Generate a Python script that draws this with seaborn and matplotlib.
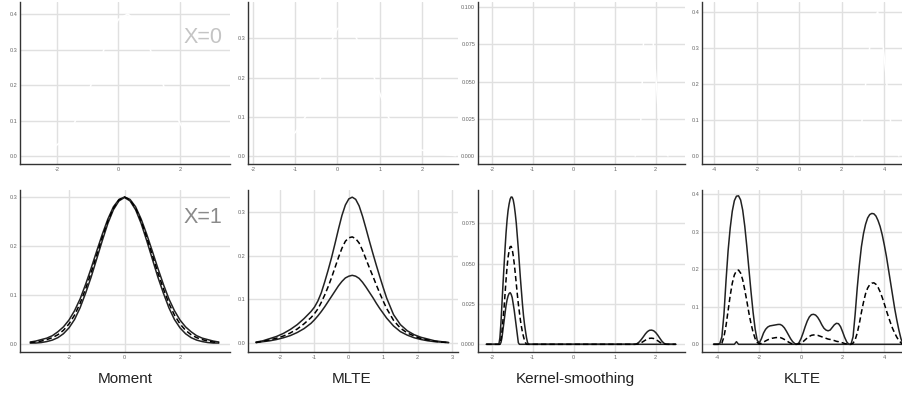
import matplotlib
matplotlib.use("Agg")
import matplotlib.pyplot as plt
import seaborn as sns

# ---------------- data ----------------
# Moment, X=1 (bottom row)
mom_x = [-3.4, -3.2, -3.0, -2.8, -2.6, -2.4, -2.2, -2.0, -1.8, -1.6, -1.4, -1.2,
         -1.0, -0.8, -0.6, -0.4, -0.2, 0.0, 0.2, 0.4, 0.6, 0.8, 1.0, 1.2, 1.4,
         1.6, 1.8, 2.0, 2.2, 2.4, 2.6, 2.8, 3.0, 3.2, 3.4]
mom_up = [0.004, 0.006, 0.009, 0.012, 0.017, 0.025, 0.035, 0.049, 0.068, 0.092, 0.122, 0.155,
          0.190, 0.224, 0.255, 0.280, 0.295, 0.300, 0.295, 0.280, 0.255, 0.224, 0.190, 0.155,
          0.122, 0.092, 0.068, 0.049, 0.035, 0.025, 0.017, 0.012, 0.009, 0.006, 0.004]
mom_mid = [0.003, 0.004, 0.006, 0.009, 0.013, 0.019, 0.028, 0.041, 0.059, 0.083, 0.113, 0.146,
           0.182, 0.218, 0.251, 0.277, 0.294, 0.300, 0.294, 0.277, 0.251, 0.218, 0.182, 0.146,
           0.113, 0.083, 0.059, 0.041, 0.028, 0.019, 0.013, 0.009, 0.006, 0.004, 0.003]
mom_lo = [0.002, 0.002, 0.003, 0.005, 0.008, 0.013, 0.021, 0.033, 0.050, 0.074, 0.104, 0.137,
          0.174, 0.211, 0.246, 0.274, 0.292, 0.299, 0.292, 0.274, 0.246, 0.211, 0.174, 0.137,
          0.104, 0.074, 0.050, 0.033, 0.021, 0.013, 0.008, 0.005, 0.003, 0.002, 0.002]
# Moment, X=0 (white curve)
mom0_x = [-2.7, -2.4, -2.1, -1.8, -1.5, -1.2, -0.9, -0.6, -0.3, 0.0, 0.3, 0.6, 0.9,
          1.2, 1.5, 1.8, 2.1, 2.4, 2.7, 3.0, 3.3]
mom0_y = [0.005, 0.011, 0.024, 0.046, 0.082, 0.134, 0.199, 0.272, 0.338, 0.385, 0.400,
          0.380, 0.330, 0.262, 0.190, 0.126, 0.076, 0.042, 0.021, 0.010, 0.004]

# MLTE, X=1
mlte_x = [-2.7, -2.5, -2.3, -2.1, -1.9, -1.7, -1.5, -1.3, -1.1,
          -1.0, -0.9, -0.8, -0.7, -0.6, -0.5, -0.4, -0.3, -0.2, -0.1, 0.0,
          0.1, 0.2, 0.3, 0.4, 0.5, 0.6, 0.7, 0.8, 0.9, 1.0, 1.1,
          1.3, 1.5, 1.7, 1.9, 2.1, 2.3, 2.5, 2.7, 2.9]
mlte_up = [0.002, 0.005, 0.010, 0.015, 0.022, 0.031, 0.042, 0.056, 0.072,
           0.082, 0.096, 0.115, 0.140, 0.167, 0.196, 0.228, 0.261, 0.292, 0.316, 0.330,
           0.334, 0.329, 0.314, 0.290, 0.262, 0.233, 0.205, 0.178, 0.152, 0.127, 0.103,
           0.065, 0.042, 0.028, 0.019, 0.013, 0.009, 0.005, 0.003, 0.001]
mlte_mid = [0.001, 0.004, 0.007, 0.011, 0.016, 0.023, 0.032, 0.044, 0.058,
            0.067, 0.078, 0.093, 0.110, 0.129, 0.150, 0.173, 0.196, 0.217, 0.233, 0.241,
            0.243, 0.239, 0.229, 0.212, 0.192, 0.172, 0.153, 0.133, 0.114, 0.096, 0.079,
            0.052, 0.034, 0.023, 0.016, 0.010, 0.007, 0.004, 0.002, 0.001]
mlte_lo = [0.001, 0.003, 0.005, 0.008, 0.012, 0.017, 0.024, 0.033, 0.045,
           0.053, 0.062, 0.072, 0.083, 0.095, 0.107, 0.119, 0.131, 0.141, 0.149, 0.153,
           0.155, 0.153, 0.148, 0.139, 0.128, 0.116, 0.104, 0.091, 0.079, 0.068, 0.057,
           0.039, 0.026, 0.018, 0.012, 0.008, 0.005, 0.003, 0.002, 0.001]
# MLTE, X=0 (white curve)
mlte0_x = [-1.9, -1.6, -1.3, -1.0, -0.7, -0.4, -0.2, 0.0, 0.2, 0.4, 0.6, 0.8, 1.0, 1.2,
           1.4, 1.6, 1.8, 2.0, 2.3, 2.6, 2.8]
mlte0_y = [0.003, 0.010, 0.030, 0.060, 0.110, 0.200, 0.280, 0.325, 0.330, 0.310, 0.270,
           0.220, 0.160, 0.100, 0.065, 0.040, 0.024, 0.015, 0.007, 0.003, 0.001]

# Kernel-smoothing, X=1
ks_x = [-2.13, -1.85,
        -1.825, -1.8, -1.775, -1.75, -1.725, -1.7, -1.675, -1.65, -1.625, -1.6,
        -1.575, -1.55, -1.525, -1.5, -1.475, -1.45, -1.425, -1.4, -1.375, -1.35,
        -1.325, -1.3, -1.275, -1.25, -1.225, -1.2, -1.175, -1.15, -1.125, -1.1,
        1.5, 1.55, 1.6, 1.65, 1.7, 1.75, 1.8, 1.85, 1.9, 1.95, 2.0, 2.05, 2.1,
        2.15, 2.2, 2.25, 2.3, 2.49]
ks_up = [0, 0,
         0.0, 0.004, 0.013, 0.025, 0.037, 0.048, 0.059, 0.069, 0.077, 0.083,
         0.087, 0.090, 0.0913, 0.0912, 0.0895, 0.086, 0.081, 0.075, 0.067, 0.059,
         0.050, 0.041, 0.033, 0.025, 0.018, 0.0125, 0.008, 0.004, 0.001, 0.0,
         0, 0.0005, 0.0015, 0.003, 0.0047, 0.0065, 0.0079, 0.0087, 0.0088, 0.0084, 0.0073,
         0.0057, 0.0038, 0.002, 0.0007, 0.0001, 0, 0]
ks_mid = [0, 0,
          0, 0, 0.003, 0.008, 0.015, 0.022, 0.031, 0.040, 0.048, 0.054,
          0.058, 0.0605, 0.0607, 0.059, 0.055, 0.050, 0.044, 0.0375, 0.031, 0.025,
          0.020, 0.015, 0.011, 0.0075, 0.0048, 0.0025, 0.001, 0, 0, 0,
          0, 0.0001, 0.0004, 0.001, 0.0018, 0.0026, 0.0033, 0.0037, 0.0038, 0.0036, 0.003,
          0.0022, 0.0013, 0.0006, 0.0002, 0, 0, 0]
ks_lo = [0, 0,
         0, 0, 0.001, 0.004, 0.009, 0.014, 0.019, 0.024, 0.0275, 0.030,
         0.0315, 0.032, 0.031, 0.029, 0.025, 0.021, 0.016, 0.011, 0.006, 0.001,
         0, 0, 0, 0, 0, 0, 0, 0, 0, 0,
         0, 0, 0, 0, 0, 0, 0, 0, 0, 0, 0, 0, 0, 0, 0, 0, 0, 0]
# Kernel-smoothing, X=0 (white curve)
ks0_x = [1.5, 1.6, 1.65, 1.7, 1.8, 1.9, 2.0, 2.05, 2.1, 2.2, 2.3]
ks0_y = [0, 0.008, 0.030, 0.075, 0.098, 0.090, 0.055, 0.035, 0.018, 0.004, 0]

# KLTE, X=1
kl_x = [-4.2, -4.1, -4.0, -3.9, -3.8, -3.7, -3.6, -3.5, -3.4, -3.3,
        -3.2, -3.1, -3.0, -2.9, -2.8, -2.7, -2.6, -2.5, -2.4, -2.3,
        -2.2, -2.1, -2.0, -1.9, -1.8, -1.7, -1.6, -1.5, -1.4, -1.3,
        -1.2, -1.1, -1.0, -0.9, -0.8, -0.7, -0.6, -0.5, -0.4, -0.3,
        -0.2, -0.1, 0.0, 0.1, 0.2, 0.3, 0.4, 0.5, 0.6, 0.7,
        0.8, 0.9, 1.0, 1.1, 1.2, 1.3, 1.4, 1.5, 1.6, 1.7,
        1.8, 1.9, 2.0, 2.1, 2.2, 2.3, 2.4, 2.5, 2.6, 2.7,
        2.8, 2.9, 3.0, 3.1, 3.2, 3.3, 3.4, 3.5, 3.6, 3.7,
        3.8, 3.9, 4.0, 4.1, 4.2, 4.3, 4.4, 4.5, 4.6, 4.7,
        4.8, 4.9]
kl_up = [0, 0, 0, 0.002, 0.02, 0.08, 0.17, 0.25, 0.31, 0.355,
         0.383, 0.395, 0.396, 0.385, 0.358, 0.315, 0.26, 0.2, 0.14, 0.085,
         0.04, 0.01, 0.004, 0.015, 0.03, 0.04, 0.046, 0.049, 0.05, 0.051,
         0.052, 0.053, 0.053, 0.05, 0.044, 0.035, 0.025, 0.015, 0.007, 0.002,
         0.0, 0.004, 0.015, 0.03, 0.047, 0.062, 0.073, 0.079, 0.08, 0.078,
         0.072, 0.063, 0.052, 0.043, 0.038, 0.036, 0.038, 0.045, 0.052, 0.056,
         0.055, 0.047, 0.033, 0.018, 0.006, 0.0, 0.0, 0.02, 0.08, 0.15,
         0.21, 0.26, 0.295, 0.32, 0.337, 0.346, 0.349, 0.348, 0.342, 0.33,
         0.314, 0.292, 0.265, 0.235, 0.2, 0.165, 0.13, 0.095, 0.065, 0.038,
         0.015, 0.0]
kl_mid = [0, 0, 0, 0, 0.003, 0.02, 0.05, 0.09, 0.13, 0.163,
          0.185, 0.196, 0.198, 0.19, 0.172, 0.145, 0.115, 0.083, 0.055, 0.032,
          0.015, 0.005, 0.001, 0.003, 0.006, 0.009, 0.012, 0.014, 0.016, 0.017,
          0.018, 0.018, 0.018, 0.016, 0.013, 0.01, 0.006, 0.003, 0.001, 0.0,
          0.0, 0.001, 0.003, 0.007, 0.012, 0.017, 0.021, 0.024, 0.025, 0.025,
          0.024, 0.022, 0.02, 0.018, 0.016, 0.014, 0.013, 0.011, 0.01, 0.008,
          0.007, 0.005, 0.004, 0.002, 0.001, 0, 0, 0.003, 0.012, 0.03,
          0.055, 0.085, 0.112, 0.135, 0.15, 0.159, 0.163, 0.164, 0.16, 0.152,
          0.14, 0.125, 0.108, 0.09, 0.073, 0.057, 0.042, 0.03, 0.019, 0.01,
          0.004, 0.0]
kl_lo = [0, 0, 0, 0, 0, 0, 0, 0, 0, 0,
         0, 0.007, 0, 0, 0, 0, 0, 0, 0, 0,
         0, 0, 0, 0, 0, 0, 0, 0, 0, 0,
         0, 0, 0, 0, 0, 0, 0, 0, 0, 0,
         0, 0, 0, 0, 0, 0, 0, 0, 0, 0,
         0, 0, 0, 0, 0, 0, 0, 0, 0, 0,
         0, 0, 0, 0, 0, 0, 0, 0, 0, 0,
         0, 0, 0, 0, 0, 0, 0, 0, 0, 0,
         0, 0, 0, 0, 0, 0, 0, 0, 0, 0,
         0, 0]
# KLTE, X=0 (white curve)
kl0_x = [2.6, 2.9, 3.1, 3.3, 3.5, 3.7, 3.9, 4.1, 4.3, 4.5, 4.7]
kl0_y = [0, 0.06, 0.18, 0.29, 0.37, 0.40, 0.34, 0.22, 0.10, 0.03, 0]

titles = ["Moment", "MLTE", "Kernel-smoothing", "KLTE"]
title_x = [125, 352, 575, 802]

# ---------------- figure ----------------
sns.set_theme(style="whitegrid")
plt.rcParams['font.family'] = ['Liberation Sans', 'DejaVu Sans']

W, H = 903, 397
fig = plt.figure(figsize=(W / 100, H / 100), dpi=100)

cols_px = [(20, 230), (248, 458), (478, 685), (702, 903)]
rows_px = [(2, 164), (190, 352)]
LINE = '#222222'


def panel(col, row, xlim, ylim, xticks, yticks, xfmt, yfmt):
    x0, x1 = cols_px[col]
    y0, y1 = rows_px[row]
    ax = fig.add_axes([x0 / W, 1 - y1 / H, (x1 - x0) / W, (y1 - y0) / H])
    ax.set_facecolor('white')
    ax.set_xlim(xlim)
    ax.set_ylim(ylim)
    ax.set_xticks(xticks)
    ax.set_xticklabels([xfmt.format(v) for v in xticks])
    ax.set_yticks(yticks)
    ax.set_yticklabels([yfmt.format(v) for v in yticks])
    ax.grid(True, color='#e0e0e0', lw=1.0)
    ax.set_axisbelow(True)
    for s in ['top', 'right']:
        ax.spines[s].set_visible(False)
    for s in ['left', 'bottom']:
        ax.spines[s].set_visible(True)
        ax.spines[s].set_color('#333333')
        ax.spines[s].set_linewidth(1.0)
    ax.tick_params(length=0, pad=2, labelsize=4, colors='#666666')
    return ax


def curves(ax, x, up, mid, lo):
    sns.lineplot(x=x, y=up, ax=ax, color=LINE, lw=1.1)
    sns.lineplot(x=x, y=lo, ax=ax, color=LINE, lw=1.1)
    sns.lineplot(x=x, y=mid, ax=ax, color='black', lw=1.1, linestyle=(0, (3.5, 2)))
    ax.set_xlabel('')
    ax.set_ylabel('')


# top row (X=0) - curves are drawn in white
ax = panel(0, 0, (-3.203, 3.626), (-0.0225, 0.4338), [-2, 0, 2],
           [0, 0.1, 0.2, 0.3, 0.4], '{:g}', '{:.1f}')
sns.lineplot(x=mom0_x, y=mom0_y, ax=ax, color='white', lw=1.1)
ax.text(0.962, 0.747, 'X=0', transform=ax.transAxes, ha='right', va='baseline',
        fontsize=15.5, color='#c4c4c4')

ax = panel(1, 0, (-2.118, 2.852), (-0.0204, 0.3925), [-2, -1, 0, 1, 2],
           [0, 0.1, 0.2, 0.3], '{:g}', '{:.1f}')
sns.lineplot(x=mlte0_x, y=mlte0_y, ax=ax, color='white', lw=1.1)

ax = panel(2, 0, (-2.334, 2.715), (-0.00538, 0.10356), [-2, -1, 0, 1, 2],
           [0, 0.025, 0.05, 0.075, 0.1], '{:g}', '{:.3f}')
sns.lineplot(x=ks0_x, y=ks0_y, ax=ax, color='white', lw=1.1)

ax = panel(3, 0, (-4.58, 4.896), (-0.0222, 0.4269), [-4, -2, 0, 2, 4],
           [0, 0.1, 0.2, 0.3, 0.4], '{:g}', '{:.1f}')
sns.lineplot(x=kl0_x, y=kl0_y, ax=ax, color='white', lw=1.1)

# bottom row (X=1)
ax = panel(0, 1, (-3.766, 3.802), (-0.0163, 0.3143), [-2, 0, 2],
           [0, 0.1, 0.2, 0.3], '{:g}', '{:.1f}')
curves(ax, mom_x, mom_up, mom_mid, mom_lo)
ax.text(0.962, 0.796, 'X=1', transform=ax.transAxes, ha='right', va='baseline',
        fontsize=15.5, color='#8a8a8a')

ax = panel(1, 1, (-2.93, 3.174), (-0.0206, 0.3504), [-2, -1, 0, 1, 2, 3],
           [0, 0.1, 0.2, 0.3], '{:g}', '{:.1f}')
curves(ax, mlte_x, mlte_up, mlte_mid, mlte_lo)

ax = panel(2, 1, (-2.334, 2.715), (-0.00477, 0.09564), [-2, -1, 0, 1, 2],
           [0, 0.025, 0.05, 0.075], '{:g}', '{:.3f}')
curves(ax, ks_x, ks_up, ks_mid, ks_lo)

ax = panel(3, 1, (-4.754, 4.898), (-0.0205, 0.4115), [-4, -2, 0, 2, 4],
           [0, 0.1, 0.2, 0.3, 0.4], '{:g}', '{:.1f}')
curves(ax, kl_x, kl_up, kl_mid, kl_lo)

# column titles under the panels
for cx, t in zip(title_x, titles):
    fig.text(cx / W, 1 - 379 / H, t, ha='center', va='center',
             fontsize=11, color='#222222')

fig.savefig('out.png', dpi=100)
